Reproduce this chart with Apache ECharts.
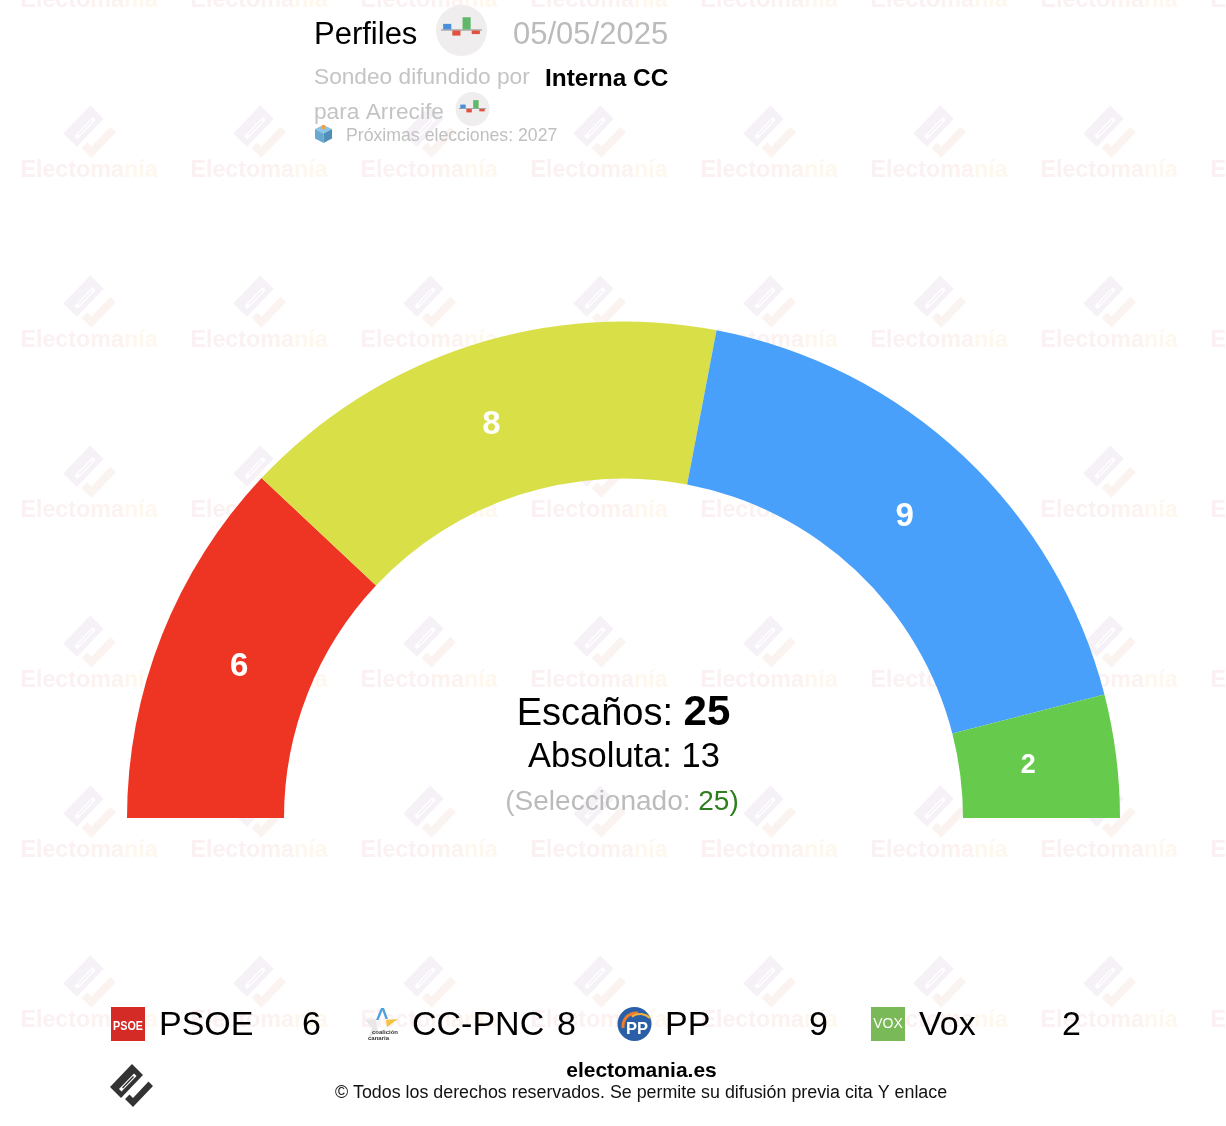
<!DOCTYPE html>
<html><head><meta charset="utf-8">
<style>html,body{margin:0;padding:0;background:#fff}#c{width:1226px;height:1126px}</style>
<script src="https://cdn.jsdelivr.net/npm/echarts@6/dist/echarts.min.js"></script>
</head><body><div id="c"></div>
<script>
const parties = ['PSOE', 'CC-PNC', 'PP', 'Vox'];
const seats = [6, 8, 9, 2];
const colors = ['#ee3524', '#d9df46', '#48a0fa', '#66cb4c'];
const labelSizes = [33, 33, 33, 27];
const labelOffsets = [[7,4],[-2,7],[-7,6],[-13,0]];
const totalSeats = 25, majority = 13, selected = 25;
const FONT = '"Liberation Sans", Arial, sans-serif';

const g = [];
function txt(x, y, text, size, fill, opt) {
  opt = opt || {};
  g.push({type:'text', z: opt.z === undefined ? 50 : opt.z, silent:true, x, y, scaleX:opt.scaleX||1, style:{
    text, fill, font:(opt.bold?'bold ':'')+size+'px '+FONT,
    textAlign:opt.align||'left', textVerticalAlign:'middle', rich:opt.rich}});
}
function poly(pts, fill, z) {
  g.push({type:'polygon', z: z===undefined?50:z, silent:true, shape:{points:pts}, style:{fill:fill||'none'}});
}
function rect(x,y,w,h,fill,z){g.push({type:'rect',z:z===undefined?50:z,silent:true,shape:{x,y,width:w,height:h},style:{fill}});}
function circ(cx,cy,r,fill,z){g.push({type:'circle',z:z===undefined?50:z,silent:true,shape:{cx,cy,r},style:{fill}});}

/* brand logo: local box centred on (31,30) */
function logo(cx, cy, s, cBody, cCheck, cSlot, z) {
  const m = p => p.map(q => [cx + (q[0]-31)*s, cy + (q[1]-30)*s]);
  poly(m([[32,9],[10,32],[21,43],[43,20]]), cBody, z);
  poly(m([[34,18.5],[19,34],[21.5,36.5],[36.5,21]]), cSlot, z);
  poly(m([[33,21],[22,32.5],[23,33.5],[34,22]]), cBody, z);
  poly(m([[25,44],[33,52],[53,31],[48.5,26.5],[33,43],[29.5,39.5]]), cCheck, z);
}
/* watermark */
const wmRich = {
  a:{font:'bold 23.3px '+FONT, fill:'#fbf1f2'},
  b:{font:'bold 23.3px '+FONT, fill:'#fcf2ef'},
  c:{font:'bold 23.3px '+FONT, fill:'#fef7ee'}
};
for (let i = -1; i <= 7; i++) for (let j = -1; j <= 6; j++) {
  const x = 89 + 170*i, y = 131 + 170*j;
  logo(x, y, 1.22, '#f5f1f7', '#fbf3f0', '#ffffff', -5);
  txt(x, y+40, '{a|Electo}{b|ma}{c|nía}', 23.3, '#fbf1f2', {align:'center', z:-5, rich:wmRich});
}
/* poll icon */
function pollIcon(cx, cy, r) {
  const s = r/25;
  circ(cx, cy, r, '#efedee');
  const bar = (x0,y0,x1,y1,c) => rect(cx+x0*s, cy+y0*s, (x1-x0)*s, (y1-y0)*s, c);
  bar(-20,-1,20,0,'#8a8a8a');
  bar(-18,-6.5,-10,-1,'#4a90d9');
  bar(-9,0,-1,5,'#e0513f');
  bar(1,-13,9,-1,'#62b86a');
  bar(10,0,18,3.5,'#e0513f');
}
/* header */
txt(314, 35, 'Perfiles', 31, '#000');
pollIcon(461.5, 30.5, 25.5);
txt(513, 35, '05/05/2025', 31, '#bbbbbb');
txt(314, 78, 'Sondeo difundido por', 22.7, '#c4c4c4');
txt(545, 79, 'Interna CC', 24.4, '#000', {bold:true});
txt(314, 113, 'para Arrecife', 22.7, '#c4c4c4');
pollIcon(472.5, 109, 17);
/* ballot box */
poly([[315,129],[323.5,125],[332,129],[323.5,133.5]], '#8cc5e3');
poly([[315,129],[323.5,133.5],[323.5,143],[315,138.5]], '#6aa9cf');
poly([[332,129],[323.5,133.5],[323.5,143],[332,138.5]], '#4f8fb8');
rect(322,125,3,4,'#f0a040');
txt(346, 136, 'Próximas elecciones: 2027', 17.7, '#c0c0c0');
/* centre */
txt(623.5, 713, '{a|Escaños: }{b|'+totalSeats+'}', 38, '#000', {align:'center', rich:{
  a:{font:'38px '+FONT, fill:'#000', verticalAlign:'bottom'}, b:{font:'bold 42px '+FONT, fill:'#000', verticalAlign:'bottom'}}});
txt(624, 757, 'Absoluta: '+majority, 34.5, '#000', {align:'center'});
txt(622, 802, '{a|(Seleccionado: }{b|'+selected+')}', 28, '#bbb', {align:'center', rich:{
  a:{font:'28px '+FONT, fill:'#bbbbbb'}, b:{font:'28px '+FONT, fill:'#2e7d1e'}}});
/* legend */
const nameX = [159, 412, 665, 919], valX = [302, 557, 809, 1062];
parties.forEach((p,i) => {
  txt(nameX[i], 1026, p, 34, '#000');
  txt(valX[i], 1026, String(seats[i]), 34, '#000');
});
// PSOE
rect(111,1007,34,34,'#d52b27');
txt(128,1026,'PSOE',13,'#fff',{bold:true,align:'center',scaleX:0.83});
// CC
poly([[376,1019],[365,1020],[372,1028],[368,1039],[378,1031]], '#e8e8e8');
poly([[381,1008],[383.5,1008],[378.5,1020],[376,1020]], '#4aa3df');
poly([[381.5,1008],[384,1008],[388,1019],[385.5,1019]], '#4aa3df');
poly([[386,1020],[398,1019],[387,1027]], '#f5c33b');
txt(372,1032.5,'coalición',6,'#333',{bold:true});
txt(368,1038.5,'canaria',6,'#333',{bold:true});
// PP
circ(634.5,1024,17,'#2a5fa8');
g.push({type:'arc',z:51,silent:true,shape:{cx:636,cy:1026,r:13,startAngle:Math.PI*0.95,endAngle:Math.PI*1.55},style:{stroke:'#ee7d2a',lineWidth:3,fill:'none'}});
g.push({type:'arc',z:51,silent:true,shape:{cx:640,cy:1028,r:14,startAngle:Math.PI*1.3,endAngle:Math.PI*1.75},style:{stroke:'#f0b23c',lineWidth:2,fill:'none'}});
txt(637,1029,'PP',16.5,'#fff',{bold:true,align:'center',z:52});
// Vox
rect(871,1007,34,34,'#79b957');
txt(888,1024,'VOX',14,'#fff',{align:'center'});
/* footer */
logo(131, 1085, 1, '#333333', '#333333', '#ffffff', 50);
txt(641.5, 1071, 'electomania.es', 21, '#000', {bold:true, align:'center'});
txt(641, 1093, '© Todos los derechos reservados. Se permite su difusión previa cita Y enlace', 17.85, '#111', {align:'center'});

const chart = echarts.init(document.getElementById('c'), null, {renderer:'canvas', width:1226, height:1126});
chart.setOption({
  animation:false,
  backgroundColor:'#ffffff',
  series:[{
    type:'pie', z:10, silent:true,
    center:[623.5,818], radius:[339.5,496.5],
    startAngle:180, endAngle:0, clockwise:true,
    avoidLabelOverlap:false,
    labelLine:{show:false},
    itemStyle:{borderWidth:0},
    data: parties.map((p,i)=>({
      name:p, value:seats[i],
      itemStyle:{color:colors[i]},
      label:{show:true, position:'inside', formatter:'{c}', color:'#fff', offset:labelOffsets[i],
        fontFamily:FONT, fontWeight:'bold', fontSize:labelSizes[i], textBorderWidth:0}
    }))
  }],
  graphic:{elements:g}
});
</script></body></html>
